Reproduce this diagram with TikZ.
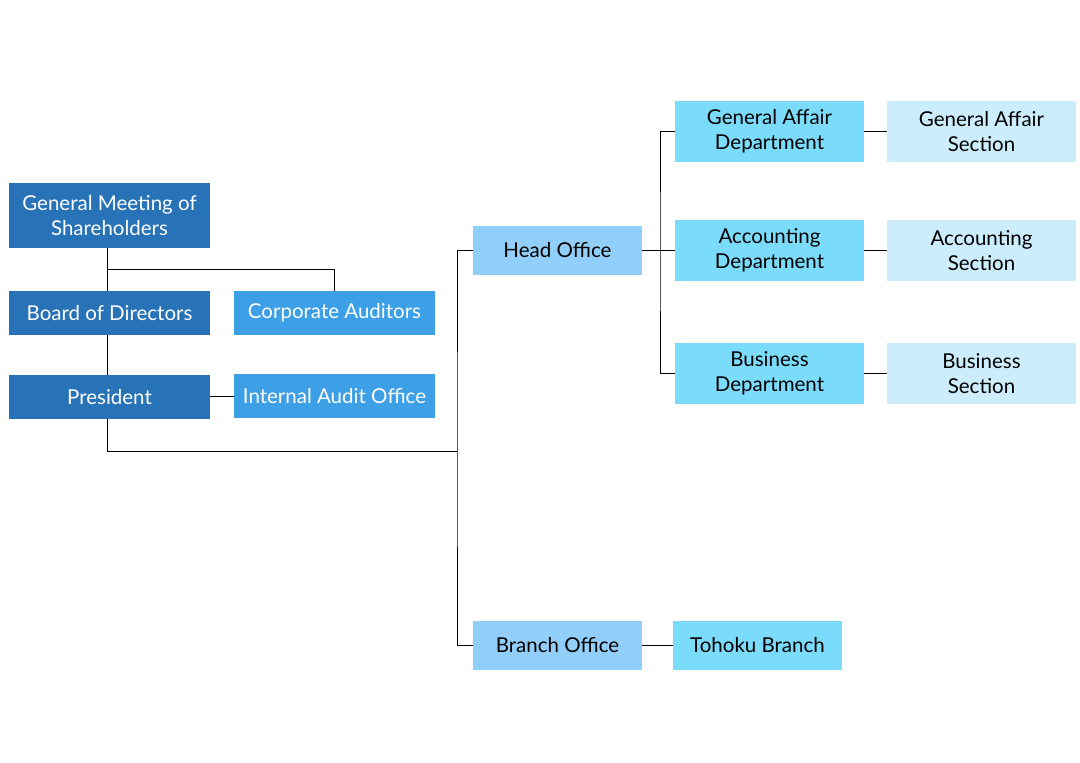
\documentclass[tikz,border=0pt]{standalone}
\usepackage{fontspec}
\setmainfont{Lato}
\begin{document}
\begin{tikzpicture}[x=1pt,y=-1pt,
  box/.style={inner sep=0pt, align=center, font=\fontsize{20.5}{25}\selectfont},
  dark/.style={box, fill=darkblue, text=white, minimum width=201pt},
  mid/.style={box, fill=midblue, text=white, minimum width=201pt, minimum height=44pt},
  office/.style={box, fill=officeblue, text=black, minimum width=169pt, minimum height=49pt},
  dept/.style={box, fill=deptblue, text=black, minimum width=189pt, minimum height=61pt},
  sect/.style={box, fill=sectblue, text=black, minimum width=189pt, minimum height=61pt},
  conn/.style={draw=black, line width=1pt}]
\definecolor{darkblue}{HTML}{2872B8}
\definecolor{midblue}{HTML}{3D9FE6}
\definecolor{officeblue}{HTML}{91CFFA}
\definecolor{deptblue}{HTML}{7BDBFB}
\definecolor{sectblue}{HTML}{CCEEFC}
\useasboundingbox (0,0) rectangle (1080,763);
% nodes
\node[dark, minimum height=65pt] (gm) at (109.5,215.5) {General Meeting of\\Shareholders};
\node[dark, minimum height=44pt] (bd) at (109.5,313) {Board of Directors};
\node[dark, minimum height=44pt] (pr) at (109.5,397) {President};
\node[mid] (ca) at (334.5,313) {Corporate Auditors};
\node[mid] (ia) at (334.5,396) {Internal Audit Office};
\node[office] (ho) at (557.5,250.5) {Head Office};
\node[office] (bo) at (557.5,645.5) {Branch Office};
\node[box, fill=deptblue, text=black, minimum width=169pt, minimum height=49pt] (tb) at (757.5,645.5) {Tohoku Branch};
\node[dept] (gad) at (769.5,131.5) {General Affair\\Department};
\node[dept] (acd) at (769.5,250.5) {Accounting\\Department};
\node[dept] (bud) at (769.5,373.5) {Business\\Department};
\node[sect] (gas) at (981.5,131.5) {General Affair\\Section};
\node[sect] (acs) at (981.5,250.5) {Accounting\\Section};
\node[sect] (bus) at (981.5,373.5) {Business\\Section};
% connectors
\coordinate (j1) at (107,269);
\coordinate (j2) at (457,451);
\coordinate (j3) at (660,250.5);
\draw[conn] (gm.south -| j1) -- (bd.north -| j1);
\draw[conn] (j1) -| (ca.north);
\draw[conn] (bd.south -| j1) -- (pr.north -| j1);
\draw[conn] (pr.east |- ia) -- (ia.west);
\draw[conn] (pr.south -| j1) |- (j2);
\draw[conn] (ho.west) -| (j2) |- (bo.west);
\draw[conn] (bo.east) -- (tb.west);
\draw[conn] (ho.east) -- (acd.west);
\draw[conn] (gad.west) -| (j3) |- (bud.west);
\draw[conn] (gad.east) -- (gas.west);
\draw[conn] (acd.east) -- (acs.west);
\draw[conn] (bud.east) -- (bus.west);
\end{tikzpicture}
\end{document}
